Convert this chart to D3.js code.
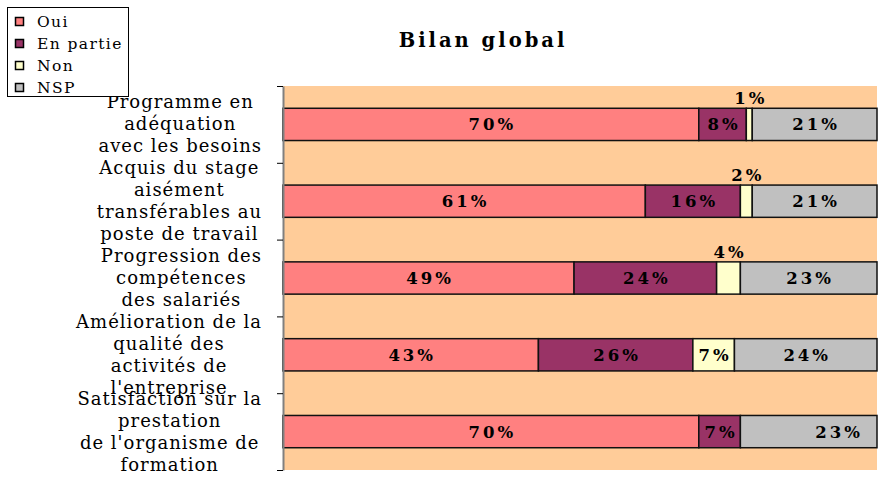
<!DOCTYPE html>
<html>
<head>
<meta charset="utf-8">
<script src="https://cdn.jsdelivr.net/npm/d3@7"></script>
<style>
  body { margin: 0; background: #fff; }
  svg { display: block; }
  .cat { font-family: "DejaVu Serif", serif; font-size: 18px; letter-spacing: 1px; fill: #000; }
  .lbl { font-family: "DejaVu Serif", serif; font-size: 16.5px; font-weight: bold; letter-spacing: 3px; fill: #000; }
  .leg { font-family: "DejaVu Serif", serif; font-size: 15.5px; letter-spacing: 1.4px; fill: #000; }
  .title { font-family: "DejaVu Serif", serif; font-size: 19.5px; font-weight: bold; letter-spacing: 3px; }
</style>
</head>
<body>
<div id="chart"></div>
<script>
// Bilan global - stacked 100% horizontal bars

var categories = [
    ["Programme en", "adéquation", "avec les besoins"],
    ["Acquis du stage", "aisément", "transférables au", "poste de travail"],
    ["Progression des", "compétences", "des salariés"],
    ["Amélioration de la", "qualité des", "activités de", "l'entreprise"],
    ["Satisfaction sur la", "prestation", "de l'organisme de", "formation"]
];
var seriesNames = ["Oui", "En partie", "Non", "NSP"];
var oui      = [70, 61, 49, 43, 70];
var enPartie = [8, 16, 24, 26, 7];
var non      = [1, 2, 4, 7, 0];
var nsp      = [21, 21, 23, 24, 23];
var colors = ["#FF8080", "#993366", "#FFFFCC", "#C0C0C0"];

var width = 881, height = 483;
var plot = {left: 283, right: 877, top: 86, bottom: 470};

var svg = d3.select("#chart").append("svg")
    .attr("width", width)
    .attr("height", height);

// scales
var x = d3.scaleLinear().domain([0, 100]).range([plot.left, plot.right]);
var y = d3.scaleBand()
    .domain(d3.range(categories.length))
    .range([plot.top, plot.bottom])
    .paddingInner(0.58)
    .paddingOuter(0.29);
var yEdge = d3.scaleLinear().domain([0, categories.length]).range([plot.top, plot.bottom]);

// plot background
svg.append("rect")
    .attr("x", plot.left)
    .attr("y", plot.top)
    .attr("width", plot.right - plot.left)
    .attr("height", plot.bottom - plot.top)
    .attr("fill", "#FFCC99");

// stack the series
var rows = categories.map(function(c, i) {
    return {i: i, "Oui": oui[i], "En partie": enPartie[i], "Non": non[i], "NSP": nsp[i]};
});
var stack = d3.stack().keys(seriesNames)(rows);

var layers = svg.selectAll("g.layer")
    .data(stack)
    .enter()
    .append("g")
    .attr("class", "layer")
    .attr("fill", function(d, k) { return colors[k]; });

layers.selectAll("rect")
    .data(function(d) { return d.filter(function(s) { return s[1] - s[0] > 0; }); })
    .enter()
    .append("rect")
    .attr("x", function(d) { return x(d[0]); })
    .attr("y", function(d) { return y(d.data.i); })
    .attr("width", function(d) { return x(d[1]) - x(d[0]); })
    .attr("height", y.bandwidth())
    .attr("stroke", "#111")
    .attr("stroke-width", 1.5);

// data labels (small ones sit above the bar)
var labelShift = {"4|NSP": 29};
stack.forEach(function(layer) {
    svg.selectAll(null)
        .data(layer.filter(function(s) { return s[1] - s[0] > 0; }))
        .enter()
        .append("text")
        .attr("class", "lbl")
        .attr("text-anchor", "middle")
        .attr("x", function(d) {
            var sh = labelShift[d.data.i + "|" + layer.key] || 0;
            return (x(d[0]) + x(d[1])) / 2 + sh + 1.5;
        })
        .attr("y", function(d) {
            var v = d[1] - d[0];
            if (v < 5) return y(d.data.i) - 4;
            return y(d.data.i) + y.bandwidth() / 2 + 6;
        })
        .text(function(d) { return (d[1] - d[0]) + "%"; });
});

// left axis with ticks between categories
var axis = svg.append("g")
    .attr("transform", "translate(" + plot.left + ",0)")
    .call(d3.axisLeft(yEdge).tickValues(d3.range(categories.length + 1)).tickFormat("").tickSize(6).tickSizeOuter(0));
axis.select(".domain").attr("stroke", "#808080").attr("stroke-width", 2);
axis.selectAll(".tick line").attr("stroke", "#000");

// category labels: lines centred in a block whose right side sits near the axis
var lineH = 22;
var labelRight = 262;
categories.forEach(function(lines, i) {
    var cy = y(i) + y.bandwidth() / 2;
    var t = svg.append("text")
        .attr("class", "cat")
        .attr("text-anchor", "middle")
        .attr("y", cy - (lines.length - 1) * lineH / 2 + 6);
    var spans = t.selectAll("tspan")
        .data(lines)
        .enter()
        .append("tspan")
        .attr("dy", function(d, j) { return j == 0 ? 0 : lineH; })
        .text(function(d) { return d; });
    var maxW = d3.max(spans.nodes(), function(n) { return n.getComputedTextLength(); });
    spans.attr("x", labelRight - maxW / 2);
});

// title
svg.append("text")
    .attr("class", "title")
    .attr("x", 483)
    .attr("y", 47)
    .attr("text-anchor", "middle")
    .text("Bilan global");

// legend
var leg = svg.append("g");
leg.append("rect")
    .attr("x", 7.5).attr("y", 7.5)
    .attr("width", 121).attr("height", 89)
    .attr("fill", "#fff")
    .attr("stroke", "#000");
var items = leg.selectAll("g.item")
    .data(seriesNames)
    .enter()
    .append("g")
    .attr("class", "item")
    .attr("transform", function(d, k) { return "translate(0," + (22 + k * 22) + ")"; });
items.append("rect")
    .attr("x", 15.5).attr("y", -4.5)
    .attr("width", 8).attr("height", 8)
    .attr("fill", function(d, k) { return colors[k]; })
    .attr("stroke", "#000")
    .attr("stroke-width", 1.5);
items.append("text")
    .attr("class", "leg")
    .attr("x", 37)
    .attr("y", 5)
    .text(function(d) { return d; });
</script>
</body>
</html>
